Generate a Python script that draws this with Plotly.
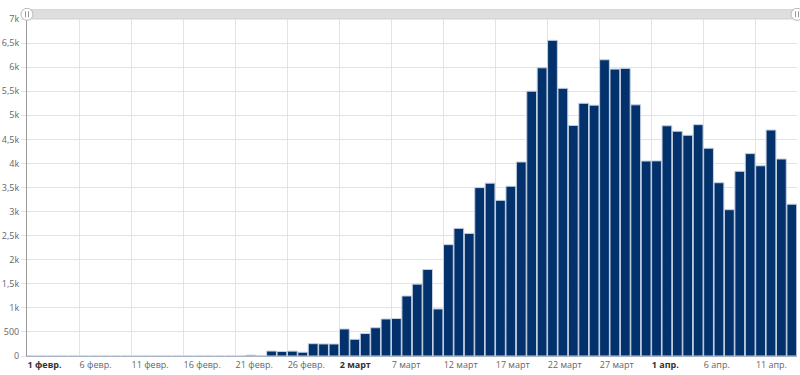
import plotly.graph_objects as go
import pandas as pd

# ---- data ----
dates = pd.date_range("2020-02-01", "2020-04-14", freq="D").strftime("%Y-%m-%d").tolist()
values = (
    [0] * 21 +
    [17, 3, 103, 93, 101, 78, 256, 250] +                       # 22-29 Feb
    [249, 561, 347, 466, 587, 769, 778, 1247, 1492, 1797,        # 1-10 Mar
     977, 2313, 2651, 2547, 3497, 3590, 3233, 3526, 4030, 5500,  # 11-20 Mar
     5986, 6557, 5560, 4789, 5249, 5210, 6153, 5959, 5974, 5217, # 21-30 Mar
     4050] +                                                     # 31 Mar
    [4053, 4782, 4668, 4585, 4805, 4316, 3599, 3039, 3836, 4204, # 1-10 Apr
     3951, 4694, 4092, 3153]                                     # 11-14 Apr
)
x_tick_vals = ["2020-02-01", "2020-02-06", "2020-02-11", "2020-02-16", "2020-02-21",
               "2020-02-26", "2020-03-02", "2020-03-07", "2020-03-12", "2020-03-17",
               "2020-03-22", "2020-03-27", "2020-04-01", "2020-04-06", "2020-04-11"]
x_tick_text = ["1 февр.", "6 февр.", "11 февр.", "16 февр.", "21 февр.",
               "26 февр.", "2 март", "7 март", "12 март", "17 март",
               "22 март", "27 март", "1 апр.", "6 апр.", "11 апр."]
month_starts = ["1 февр.", "2 март", "1 апр."]
y_tick_vals = list(range(0, 7001, 500))
y_tick_text = ["0", "500", "1k", "1,5k", "2k", "2,5k", "3k", "3,5k",
               "4k", "4,5k", "5k", "5,5k", "6k", "6,5k", "7k"]

x_tick_labels = [f'<span style="color:#333"><b>{t}</b></span>' if t in month_starts else t
                 for t in x_tick_text]

fig = go.Figure()
fig.add_trace(go.Bar(
    x=dates, y=values,
    xperiod=86400000, xperiodalignment="middle",
    marker=dict(color="#02316b", line=dict(color="#c3d0e2", width=1)),
    hoverinfo="x+y",
))

fig.update_layout(
    width=800, height=375,
    margin=dict(l=27, r=3, t=19, b=19, autoexpand=False),
    plot_bgcolor="white", paper_bgcolor="white",
    bargap=0.06,
    showlegend=False,
    font=dict(family="Open Sans", size=9, color="#666"),
    xaxis=dict(
        type="date",
        range=["2020-02-01", "2020-04-15"],
        tickvals=x_tick_vals, ticktext=x_tick_labels,
        ticklabelposition="outside right",
        showgrid=True, gridcolor="#e3e3e3", gridwidth=1,
        showline=True, linecolor="#a9b4c6", linewidth=1,
        ticks="", zeroline=False, automargin=False,
        tickfont=dict(size=9, color="#666"),
        fixedrange=True,
    ),
    yaxis=dict(
        range=[0, 7000],
        tickvals=y_tick_vals, ticktext=y_tick_text,
        showgrid=True, gridcolor="#e3e3e3", gridwidth=1,
        showline=True, linecolor="#9a9a9a", linewidth=1,
        ticks="outside", ticklen=5, tickcolor="#e3e3e3",
        zeroline=False, automargin=False,
        tickfont=dict(size=9, color="#666"),
        fixedrange=True,
    ),
)

# scrollbar decoration above the plot
shapes = []
shapes.append(dict(type="rect", xref="paper", yref="paper",
                   x0=0.0, x1=1.0, y0=1.0, y1=1.0 + 9.3 / 337,
                   fillcolor="#dedede", line=dict(color="#d2d2d2", width=1), layer="above"))
for xa in (0.0, 1.0):
    shapes.append(dict(type="circle", xref="paper", yref="paper",
                       xsizemode="pixel", ysizemode="pixel",
                       xanchor=xa, yanchor=1.0 + 4.7 / 337,
                       x0=-6, x1=6, y0=-6, y1=6,
                       fillcolor="white", line=dict(color="#b8b8b8", width=1), layer="above"))
    for dx in (-1.5, 1.5):
        shapes.append(dict(type="line", xref="paper", yref="paper",
                           xsizemode="pixel", ysizemode="pixel",
                           xanchor=xa, yanchor=1.0 + 4.7 / 337,
                           x0=dx, x1=dx, y0=-3, y1=3,
                           line=dict(color="#999", width=1), layer="above"))
fig.update_layout(shapes=shapes)

fig.write_html("out.html", config={"displayModeBar": False},
               post_script="document.body.style.margin='0';document.body.style.padding='0';document.body.style.overflow='hidden';")
